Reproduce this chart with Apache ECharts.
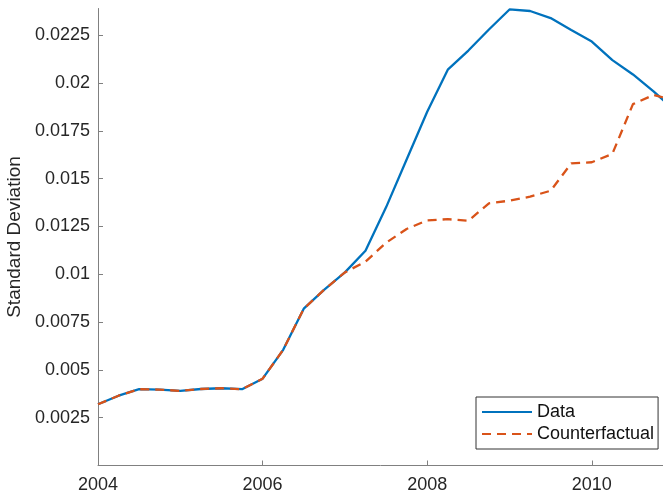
<!DOCTYPE html>
<html><head><meta charset="utf-8">
<script src="https://cdn.jsdelivr.net/npm/echarts@6/dist/echarts.min.js"></script>
<style>html,body{margin:0;padding:0;background:#fff}#c{width:663px;height:497px}</style>
</head><body><div id="c"></div>
<script>
const quarters = [2004, 2004.25, 2004.5, 2004.75, 2005, 2005.25, 2005.5, 2005.75,
  2006, 2006.25, 2006.5, 2006.75, 2007, 2007.25, 2007.5, 2007.75,
  2008, 2008.25, 2008.5, 2008.75, 2009, 2009.25, 2009.5, 2009.75,
  2010, 2010.25, 2010.5, 2010.75, 2011];
const dataSeries = [0.0032, 0.00365, 0.00399, 0.00397, 0.0039, 0.0040, 0.00404, 0.00399,
  0.00454, 0.00605, 0.0082, 0.0092, 0.0101, 0.01123, 0.0135, 0.0160,
  0.0185, 0.0207, 0.0217, 0.0228, 0.02385, 0.02377, 0.0234, 0.02278,
  0.02217, 0.0212, 0.02045, 0.01957, 0.0186];
const counterfactualSeries = [0.0032, 0.00365, 0.00399, 0.00397, 0.0039, 0.0040, 0.00404, 0.00399,
  0.00454, 0.00605, 0.0082, 0.0092, 0.0101, 0.01066, 0.01165, 0.01237,
  0.01282, 0.01288, 0.0128, 0.01371, 0.01385, 0.01406, 0.01437, 0.0158,
  0.01586, 0.0163, 0.0189, 0.01938, 0.0191];
const xTickLabels = ['2004', '2006', '2008', '2010'];
const yTickLabels = ['0.0025', '0.005', '0.0075', '0.01', '0.0125', '0.015', '0.0175', '0.02', '0.0225'];
const seriesNames = ['Data', 'Counterfactual'];

const pairs = arr => quarters.map((q, i) => [q, arr[i]]);
const txt = '#262626';
const font = 'Liberation Sans, Arial, Helvetica, sans-serif';

const chart = echarts.init(document.getElementById('c'), null, {renderer: 'canvas'});
chart.setOption({
  animation: false,
  backgroundColor: '#fff',
  grid: {left: 98, right: 0, top: 8.5, bottom: 31.5, containLabel: false, outerBoundsMode: 'none'},
  xAxis: {
    type: 'value', min: 2004, max: 2010.865, interval: 2,
    axisLine: {show: true, onZero: false, lineStyle: {color: '#808080', width: 1}},
    axisTick: {show: true, inside: true, length: 5, lineStyle: {color: '#808080'}},
    splitLine: {show: false},
    axisLabel: {
      margin: 11, color: txt, fontSize: 18, fontFamily: font, showMaxLabel: false,
      formatter: v => { const s = String(Math.round(v)); return xTickLabels.includes(s) && Math.abs(v - Math.round(v)) < 1e-6 ? s : ''; }
    }
  },
  yAxis: {
    type: 'value', min: 0, max: 0.0239, interval: 0.0025,
    name: 'Standard Deviation', nameLocation: 'middle', nameGap: 67, nameRotate: 90,
    nameTextStyle: {color: txt, fontSize: 19, fontFamily: font},
    axisLine: {show: true, onZero: false, lineStyle: {color: '#808080', width: 1}},
    axisTick: {show: true, inside: true, length: 5, lineStyle: {color: '#808080'}},
    splitLine: {show: false},
    axisLabel: {
      margin: 8, color: txt, fontSize: 18, fontFamily: font, showMaxLabel: false,
      formatter: v => { const m = yTickLabels.find(l => Math.abs(parseFloat(l) - v) < 1e-7); return m || ''; }
    }
  },
  legend: {
    orient: 'vertical', left: 476, top: 397,
    itemWidth: 50, itemHeight: 14, itemGap: 4, padding: [6, 4, 6, 5],
    backgroundColor: '#fff', borderColor: '#333', borderWidth: 1, borderRadius: 0,
    itemStyle: {opacity: 0},
    textStyle: {color: '#111', fontSize: 18, fontFamily: font},
    data: seriesNames
  },
  series: [
    {name: seriesNames[0], type: 'line', data: pairs(dataSeries), symbol: 'none', clip: true,
      lineStyle: {color: '#0072BD', width: 2.3}, itemStyle: {color: '#0072BD'}},
    {name: seriesNames[1], type: 'line', data: pairs(counterfactualSeries), symbol: 'none', clip: true,
      lineStyle: {color: '#D95319', width: 2.3, type: [9, 6]}, itemStyle: {color: '#D95319'}}
  ]
});
</script></body></html>
